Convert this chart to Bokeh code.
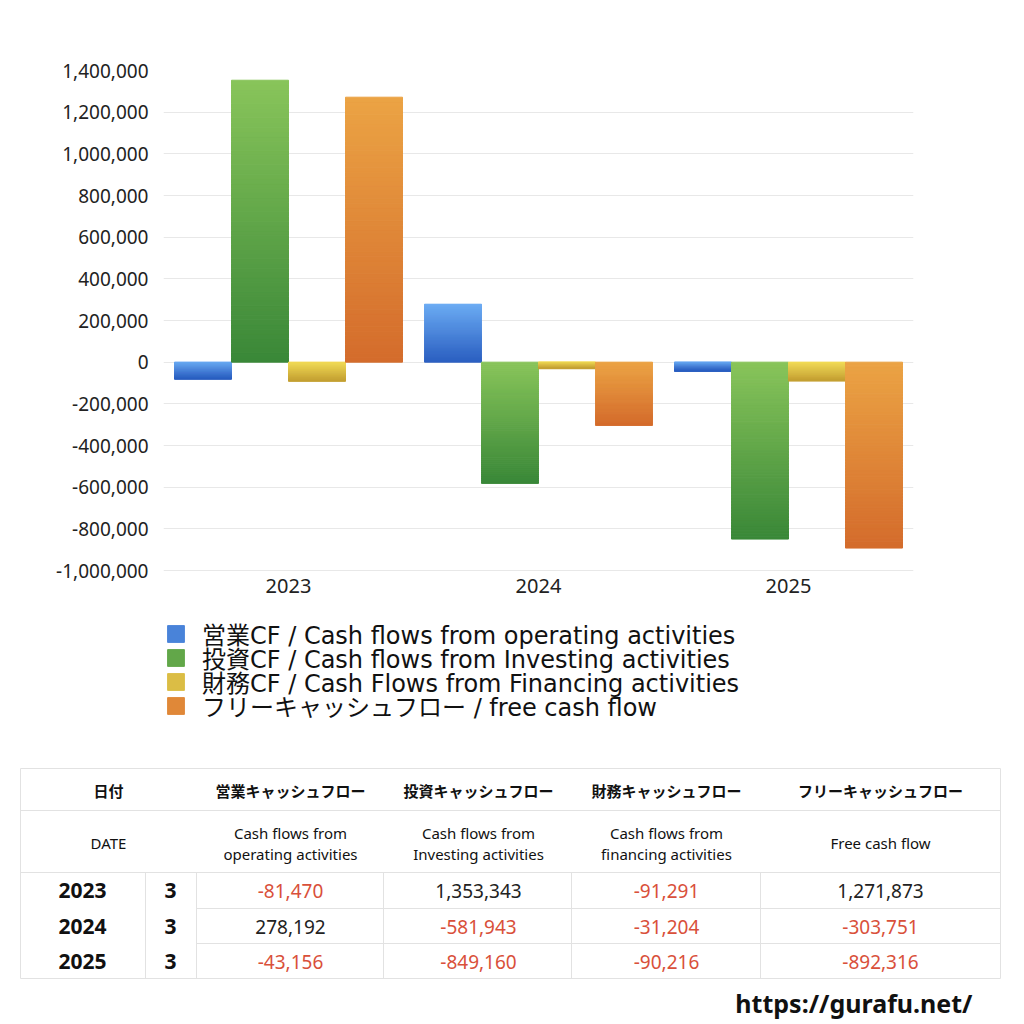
from bokeh.plotting import figure
from bokeh.models import (ColumnDataSource, Range1d, FactorRange, FixedTicker,
                          NumeralTickFormatter, Legend, LegendItem)
from bokeh.transform import dodge
from bokeh.core.properties import value
from bokeh.embed import file_html
from bokeh.resources import INLINE

years = ["2023", "2024", "2025"]
months = ["3", "3", "3"]
operating = [-81470, 278192, -43156]
investing = [1353343, -581943, -849160]
financing = [-91291, -31204, -90216]
free_cf = [1271873, -303751, -892316]
y_ticks = [-1000000, -800000, -600000, -400000, -200000, 0,
           200000, 400000, 600000, 800000, 1000000, 1200000, 1400000]

legend_labels = [
    "営業CF / Cash flows from operating activities",
    "投資CF / Cash flows from Investing activities",
    "財務CF / Cash Flows from Financing activities",
    "フリーキャッシュフロー / free cash flow",
]
heads_jp = ["営業キャッシュフロー", "投資キャッシュフロー", "財務キャッシュフロー", "フリーキャッシュフロー"]
heads_en_1 = ["Cash flows from", "Cash flows from", "Cash flows from"]
heads_en_2 = ["operating activities", "Investing activities", "financing activities"]

JP = "Noto Sans CJK JP"
MIXED = "'DejaVu Sans', 'Noto Sans CJK JP'"
N_SLICES = 60


def mix(c1, c2, t):
    a = [int(c1[i:i + 2], 16) for i in (1, 3, 5)]
    b = [int(c2[i:i + 2], 16) for i in (1, 3, 5)]
    return "#%02x%02x%02x" % tuple(int(round(x + (y - x) * t)) for x, y in zip(a, b))


def gradient_source(vals, light, dark):
    # each bar is cut into thin slices, light at the top of the bar, dark at the bottom
    d = dict(year=[], top=[], bottom=[], color=[])
    for yr, v in zip(years, vals):
        for i in range(N_SLICES):
            a = v * i / N_SLICES
            b = v * (i + 1) / N_SLICES
            t = (N_SLICES - 1 - i) / (N_SLICES - 1) if v > 0 else i / (N_SLICES - 1)
            d["year"].append(yr)
            d["top"].append(max(a, b))
            d["bottom"].append(min(a, b))
            d["color"].append(mix(light, dark, t))
    return ColumnDataSource(d)


# the frame runs on below -1,000,000 so the legend can sit inside it, under the x axis
y_top = y_ticks[-1]
y_bottom = y_top - (y_top - y_ticks[0]) * 660 / 500
p = figure(x_range=FactorRange(*years), y_range=Range1d(y_bottom, y_top),
           width=1016, height=740, output_backend="svg", toolbar_location=None,
           min_border_left=163, min_border_right=103, min_border_top=70, min_border_bottom=10)
p.outline_line_color = None
p.xgrid.grid_line_color = None
p.ygrid.grid_line_color = "#e8e8e8"
p.yaxis.ticker = FixedTicker(ticks=y_ticks)
p.ygrid.ticker = FixedTicker(ticks=y_ticks)
p.yaxis.formatter = NumeralTickFormatter(format="0,0")
p.xaxis.fixed_location = y_ticks[0]
for ax in (p.xaxis, p.yaxis):
    ax.axis_line_color = None
    ax.major_tick_line_color = None
    ax.minor_tick_line_color = None
    ax.major_label_text_color = "#222222"
    ax.major_label_text_font = "Noto Sans"
p.yaxis.major_label_text_font_size = "19px"
p.yaxis.major_label_standoff = 9
p.xaxis.major_label_text_font_size = "20px"
p.xaxis.major_label_standoff = 2

series = [
    (operating, "#6aaaf2", "#2a5ec0", -0.342),
    (investing, "#88c45a", "#3a8838", -0.114),
    (financing, "#f2dc58", "#c4a033", 0.114),
    (free_cf, "#eba344", "#d46c2c", 0.342),
]
# one legend per row so the rows can sit 24px apart
legend_rows = [79, 55, 31, 7]
for (vals, light, dark, off), lab, ly in zip(series, legend_labels, legend_rows):
    src = gradient_source(vals, light, dark)
    r = p.vbar(x=dodge("year", off, range=p.x_range), width=0.228, top="top", bottom="bottom",
               fill_color="color", line_color="color", line_width=1, source=src)
    legend = Legend(items=[LegendItem(label=lab, renderers=[r], index=N_SLICES // 2)],
                    location=(2, ly), label_text_font_size="24px", label_text_font=MIXED,
                    label_text_color="#111111", glyph_width=21, glyph_height=21,
                    label_height=21, spacing=0, padding=0, margin=0, label_standoff=16,
                    border_line_color=None, background_fill_alpha=0)
    p.add_layout(legend, "center")

# table below the chart, drawn in page pixel coordinates
t = figure(width=1016, height=280, x_range=Range1d(0, 1016), y_range=Range1d(1020, 740),
           output_backend="svg", toolbar_location=None, min_border=0)
t.outline_line_color = None
t.axis.visible = False
t.grid.visible = False

col_x = [290, 478, 666, 880]
row_y = [890, 926, 961]
h_lines = [(20, 1000, 768), (20, 1000, 810), (20, 1000, 872), (196, 1000, 908),
           (196, 1000, 943), (20, 1000, 978)]
v_lines = [(20, 768, 978), (1000, 768, 978), (145, 872, 978), (196, 872, 978),
           (383, 872, 978), (571, 872, 978), (760, 872, 978)]
t.segment(x0=[h[0] for h in h_lines], x1=[h[1] for h in h_lines],
          y0=[h[2] for h in h_lines], y1=[h[2] for h in h_lines], line_color="#e2e2e2", line_width=1)
t.segment(x0=[v[0] for v in v_lines], x1=[v[0] for v in v_lines],
          y0=[v[1] for v in v_lines], y1=[v[2] for v in v_lines], line_color="#e2e2e2", line_width=1)

t.text(x=[108] + col_x, y=[790] * 5, text=["日付"] + heads_jp, text_font=value(JP),
       text_font_size="15px", text_font_style="bold", text_color="#111111",
       text_align="center", text_baseline="middle")
t.text(x=[108, 880], y=[842, 842], text=["DATE", "Free cash flow"], text_font=value("Noto Sans"),
       text_font_size="15px", text_color="#111111", text_align="center", text_baseline="middle")
t.text(x=col_x[:3], y=[832] * 3, text=heads_en_1, text_font=value("Noto Sans"),
       text_font_size="15px", text_color="#111111", text_align="center", text_baseline="middle")
t.text(x=col_x[:3], y=[853] * 3, text=heads_en_2, text_font=value("Noto Sans"),
       text_font_size="15px", text_color="#111111", text_align="center", text_baseline="middle")

t.text(x=[82] * 3, y=row_y, text=years, text_font=value("Noto Sans"), text_font_size="21px",
       text_font_style="bold", text_color="#111111", text_align="center", text_baseline="middle")
t.text(x=[170] * 3, y=row_y, text=months, text_font=value("Noto Sans"), text_font_size="21px",
       text_font_style="bold", text_color="#111111", text_align="center", text_baseline="middle")

cells = dict(x=[], y=[], text=[], color=[])
for cx, vals in zip(col_x, [operating, investing, financing, free_cf]):
    for ry, v in zip(row_y, vals):
        cells["x"].append(cx)
        cells["y"].append(ry)
        cells["text"].append(f"{v:,}")
        cells["color"].append("#d9503a" if v < 0 else "#222222")
t.text(x="x", y="y", text="text", text_color="color", source=ColumnDataSource(cells),
       text_font=value("Noto Sans"), text_font_size="19px", text_align="center",
       text_baseline="middle")

t.text(x=[972], y=[1002], text=["https://gurafu.net/"], text_font=value("Noto Sans"),
       text_font_size="25px", text_font_style="bold", text_color="#111111",
       text_align="right", text_baseline="middle")

open("out.html", "w").write(file_html([p, t], INLINE))
